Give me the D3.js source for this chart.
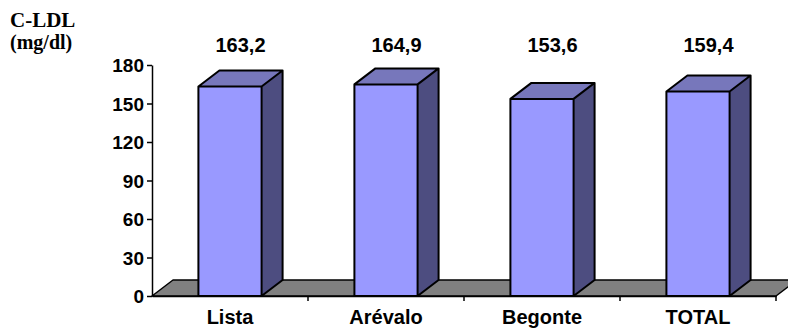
<!DOCTYPE html>
<html>
<head>
<meta charset="utf-8">
<script src="https://cdn.jsdelivr.net/npm/d3@7"></script>
<style>
  body { margin: 0; background: #fff; }
  text { font-family: Arial, "Liberation Sans", sans-serif; font-weight: bold; fill: #000; }
</style>
</head>
<body>
<svg id="chart" width="788" height="331"></svg>
<script>
const categories = ["Lista", "Arévalo", "Begonte", "TOTAL"];
const values = [163.2, 164.9, 153.6, 159.4];
const valueLabels = ["163,2", "164,9", "153,6", "159,4"];
const yTicks = [0, 30, 60, 90, 120, 150, 180];

const svg = d3.select("#chart");
const plotLeft = 152, plotRight = 776, plotTop = 65, plotBottom = 296;
const dx = 21, dy = -16; // depth of the 3d look

const x = d3.scaleBand().domain(categories).range([plotLeft, plotRight]).padding(0);
const y = d3.scaleLinear().domain([0, 180]).range([plotBottom, plotTop]);
const barW = x.bandwidth() * 0.405;

// floor
svg.append("path")
  .attr("d", `M${plotLeft},${plotBottom}L${plotLeft + dx},${plotBottom + dy}L${plotRight + dx},${plotBottom + dy}L${plotRight},${plotBottom}Z`)
  .attr("fill", "#808080")
  .attr("stroke", "#000")
  .attr("stroke-width", 1.5)
  .attr("stroke-linejoin", "round");

// y axis
const yAxis = svg.append("g")
  .attr("transform", `translate(${plotLeft},0)`)
  .call(d3.axisLeft(y).tickValues(yTicks).tickSize(5).tickSizeOuter(0).tickPadding(3));
yAxis.select(".domain").attr("stroke-width", 1.5);
yAxis.selectAll(".tick line").attr("stroke-width", 1.5);
yAxis.selectAll("text").style("font-size", "19px").attr("dy", "0.36em");

// x axis
const xAxis = svg.append("g")
  .attr("transform", `translate(0,${plotBottom})`)
  .call(d3.axisBottom(x).tickSize(0).tickPadding(14));
xAxis.select(".domain").attr("stroke-width", 1.5);
xAxis.selectAll("text").style("font-size", "20px");
xAxis.selectAll(".sep")
  .data(categories)
  .join("line")
  .attr("class", "sep")
  .attr("x1", (d, i) => plotLeft + x.step() * (i + 1))
  .attr("x2", (d, i) => plotLeft + x.step() * (i + 1))
  .attr("y1", 0).attr("y2", 5)
  .attr("stroke", "#000").attr("stroke-width", 1.5);

// bars
const bars = svg.append("g")
  .selectAll("g")
  .data(categories.map((c, i) => ({ c, v: values[i], label: valueLabels[i] })))
  .join("g");

bars.each(function (d) {
  const g = d3.select(this);
  const x0 = x(d.c) + (x.bandwidth() - barW) / 2;
  const x1 = x0 + barW;
  const yt = y(d.v);
  const yb = y(0);
  // front
  g.append("path")
    .attr("d", `M${x0},${yb}L${x0},${yt}L${x1},${yt}L${x1},${yb}Z`)
    .attr("fill", "#9999FF");
  // side
  g.append("path")
    .attr("d", `M${x1},${yb}L${x1},${yt}L${x1 + dx},${yt + dy}L${x1 + dx},${yb + dy}Z`)
    .attr("fill", "#4D4D80");
  // top
  g.append("path")
    .attr("d", `M${x0},${yt}L${x0 + dx},${yt + dy}L${x1 + dx},${yt + dy}L${x1},${yt}Z`)
    .attr("fill", "#7777BB");
  // outline
  g.append("path")
    .attr("d", `M${x0},${yb}L${x0},${yt}L${x0 + dx},${yt + dy}L${x1 + dx},${yt + dy}L${x1 + dx},${yb + dy}L${x1},${yb}Z M${x0},${yt}L${x1},${yt}L${x1},${yb} M${x1},${yt}L${x1 + dx},${yt + dy}`)
    .attr("fill", "none")
    .attr("stroke", "#000")
    .attr("stroke-width", 2)
    .attr("stroke-linejoin", "round");
  // value label
  g.append("text")
    .attr("x", (x0 + x1 + dx) / 2)
    .attr("y", y(180) - 13)
    .attr("text-anchor", "middle")
    .style("font-size", "20px")
    .text(d.label);
});

// axis title
const title = svg.append("g").attr("transform", "translate(10,0)");
title.append("text").attr("x", 0).attr("y", 27)
  .style("font-family", "'Liberation Serif', 'Times New Roman', serif").style("font-size", "21px")
  .text("C-LDL");
title.append("text").attr("x", 0).attr("y", 49)
  .style("font-family", "'Liberation Serif', 'Times New Roman', serif").style("font-size", "20px")
  .text("(mg/dl)");
</script>
</body>
</html>
